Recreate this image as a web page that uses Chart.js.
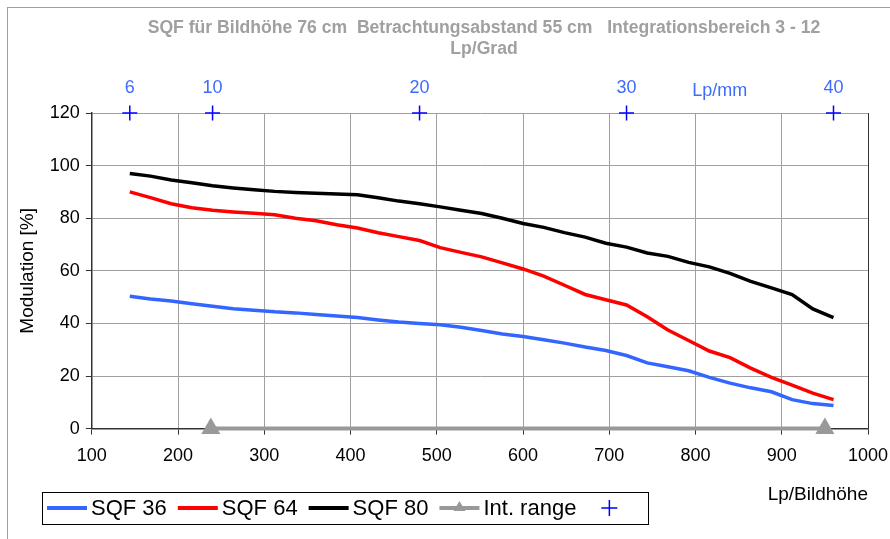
<!DOCTYPE html>
<html>
<head>
<meta charset="utf-8">
<script src="https://cdn.jsdelivr.net/npm/chart.js@4/dist/chart.umd.min.js"></script>
<style>
  body { margin: 0; background: #fff; }
  #wrap { width: 890px; height: 539px; }
</style>
</head>
<body>
<div id="wrap"><canvas id="myChart" width="890" height="539"></canvas></div>
<script>
  // Lp/Bildhöhe
  const lpBild = [144,168,192,216,240,264,288,312,336,360,384,408,432,456,480,504,528,552,576,600,624,648,672,696,720,744,768,792,816,840,864,888,912,936,960];
  const sqf36 = [50.3,49.3,48.5,47.5,46.5,45.6,45,44.4,44,43.4,42.8,42.2,41.3,40.5,40,39.5,38.5,37.3,36,35,33.8,32.5,31,29.7,27.8,25,23.5,22,19.5,17.3,15.5,14,11,9.5,8.8];
  const sqf64 = [90,87.8,85.5,84,83,82.4,81.9,81.3,80,79,77.5,76.3,74.5,73,71.5,68.8,67,65.3,63,60.7,58,54.5,51,49,47,42.5,37.5,33.5,29.5,27,23,19.5,16.5,13.5,11];
  const sqf80 = [97,96,94.5,93.5,92.3,91.5,90.8,90.2,89.8,89.5,89.2,88.9,87.8,86.5,85.5,84.3,83,81.8,80,78,76.5,74.5,72.8,70.5,69,66.8,65.5,63.2,61.5,59,56,53.5,51,45.5,42.2];
  const intRangeX = [238, 950];
  const lpmmLabels = ['6','10','20','30','40'];
  const lpmmX = [144, 240, 480, 720, 960];

  const font = "'Liberation Sans', Arial, sans-serif";
  const pts = (ys) => ys.map((y, i) => ({x: lpBild[i], y: y}));

  const legendItems = [
    {text: 'SQF 36', color: '#3366ff'},
    {text: 'SQF 64', color: '#ff0000'},
    {text: 'SQF 80', color: '#000000'},
    {text: 'Int. range', color: '#999999', tri: true},
    {text: '', color: '#0000ff', cross: true}
  ];

  const extras = {
    id: 'extras',
    beforeDraw(chart) {
      const c = chart.ctx;
      c.save();
      c.fillStyle = '#fff';
      c.fillRect(0, 0, chart.width, chart.height);
      c.strokeStyle = '#a0a0a0';
      c.lineWidth = 1;
      c.strokeRect(7.5, 7.5, 900, 560);
      c.restore();
    },
    afterDraw(chart) {
      const c = chart.ctx;
      const xs = chart.scales.x;
      c.save();
      // title
      c.fillStyle = '#a0a0a0';
      c.font = 'bold 17.6px ' + font;
      c.textAlign = 'center';
      c.textBaseline = 'middle';
      c.fillText('SQF für Bildhöhe 76 cm  Betrachtungsabstand 55 cm   Integrationsbereich 3 - 12', 484, 28);
      c.fillText('Lp/Grad', 484, 49);
      // Lp/mm labels
      c.fillStyle = '#3d6bff';
      c.font = '18px ' + font;
      lpmmLabels.forEach((t, i) => c.fillText(t, xs.getPixelForValue(lpmmX[i]), 88));
      c.fillText('Lp/mm', xs.getPixelForValue(828), 91);
      // legend
      c.strokeStyle = '#000';
      c.lineWidth = 1;
      c.strokeRect(42.5, 492.5, 606, 32);
      c.font = '22px ' + font;
      c.textAlign = 'left';
      let x = 47;
      const ly = 508;
      legendItems.forEach(it => {
        if (it.cross) {
          c.strokeStyle = it.color;
          c.lineWidth = 1.5;
          const cx = x + 22;
          c.beginPath();
          c.moveTo(cx - 8, ly); c.lineTo(cx + 8, ly);
          c.moveTo(cx, ly - 8); c.lineTo(cx, ly + 8);
          c.stroke();
          return;
        }
        c.strokeStyle = it.color;
        c.lineWidth = 4;
        c.beginPath();
        c.moveTo(x, ly); c.lineTo(x + 40, ly);
        c.stroke();
        if (it.tri) {
          c.fillStyle = it.color;
          c.beginPath();
          c.moveTo(x + 20, ly - 7); c.lineTo(x + 26, ly + 3); c.lineTo(x + 14, ly + 3);
          c.closePath();
          c.fill();
        }
        c.fillStyle = '#000';
        c.fillText(it.text, x + 44, ly + 1);
        x += 44 + c.measureText(it.text).width + 11;
      });
      c.restore();
    }
  };

  const gridCol = '#a0a0a0';
  const config = {
    type: 'scatter',
    data: {
      datasets: [
        {label: 'SQF 36', data: pts(sqf36), showLine: true, borderColor: '#3366ff', borderWidth: 3.5, pointRadius: 0},
        {label: 'SQF 64', data: pts(sqf64), showLine: true, borderColor: '#ff0000', borderWidth: 3.5, pointRadius: 0},
        {label: 'SQF 80', data: pts(sqf80), showLine: true, borderColor: '#000000', borderWidth: 3.5, pointRadius: 0},
        {label: 'Int. range', data: intRangeX.map(v => ({x: v, y: 0})), showLine: true, borderColor: '#999999', borderWidth: 4,
         pointStyle: 'triangle', pointRadius: 11, pointBackgroundColor: '#999999', pointBorderColor: '#999999', pointBorderWidth: 0},
        {label: '', data: lpmmX.map(v => ({x: v, y: 120})), showLine: false, pointStyle: 'cross', pointRadius: 7.5,
         pointBorderColor: '#0000ff', pointBorderWidth: 1.5}
      ]
    },
    options: {
      responsive: false,
      animation: false,
      clip: false,
      layout: {padding: {left: 8, right: 22, top: 113, bottom: 29}},
      plugins: {legend: {display: false}, title: {display: false}, tooltip: {enabled: false}},
      scales: {
        x: {
          type: 'linear', min: 100, max: 1000,
          afterFit: s => { s.paddingRight = 0; },
          ticks: {stepSize: 100, color: '#000', font: {family: font, size: 18}, padding: 11, maxRotation: 0, callback: v => String(v)},
          grid: {color: c => c.tick && c.tick.value === 1000 ? '#333' : gridCol, tickColor: '#333', tickLength: 6},
          border: {color: '#333', width: 1.5},
          title: {display: true, text: 'Lp/Bildhöhe', align: 'end', color: '#000', font: {family: font, size: 19}, padding: {top: 5, bottom: 4}}
        },
        y: {
          min: 0, max: 120,
          ticks: {stepSize: 20, color: '#000', font: {family: font, size: 18}, padding: 6},
          grid: {color: gridCol, tickColor: '#333', tickLength: 6},
          border: {color: '#333', width: 1.5},
          title: {display: true, text: 'Modulation [%]', color: '#000', font: {family: font, size: 19}, padding: {top: 8, bottom: 5}}
        }
      }
    },
    plugins: [extras]
  };

  const ctx = document.getElementById('myChart');
  const myChart = new Chart(ctx, config);
</script>
</body>
</html>
